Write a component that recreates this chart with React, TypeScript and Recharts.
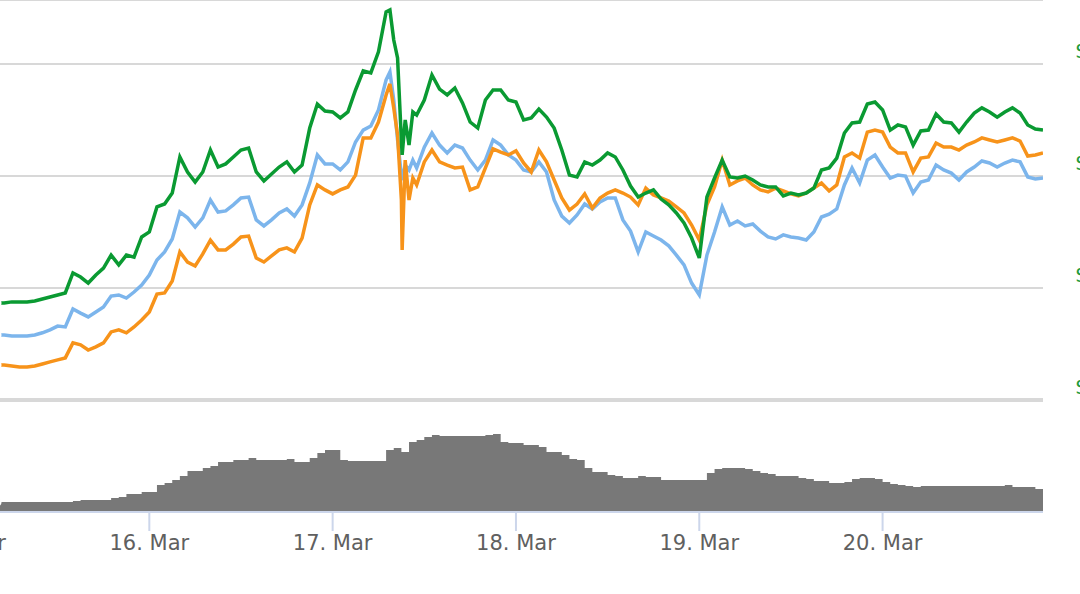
import { ComposedChart, Line, Area, XAxis, YAxis, CartesianGrid, ReferenceLine } from 'recharts';

// hourly samples from 15 Mar 00:00
const dayTicks = [0, 24, 48, 72, 96, 120];
const dayLabels = ['15. Mar', '16. Mar', '17. Mar', '18. Mar', '19. Mar', '20. Mar'];
const priceTicks = [30, 35, 40, 45];

const greenPrice = [
  34.29, 34.29, 34.33, 34.33, 34.33, 34.33, 34.38, 34.38, 34.38, 34.42, 34.51, 34.6,
  34.69, 34.78, 35.67, 35.49, 35.22, 35.58, 35.89, 36.47, 36.03, 36.47, 36.38, 37.28,
  37.5, 38.62, 38.75, 39.24, 40.85, 40.18, 39.73, 40.18, 41.16, 40.4, 40.54, 40.85,
  41.16, 41.25, 40.18, 39.78, 40.09, 40.4, 40.63, 40.18, 40.49, 42.14, 43.21, 42.9,
  42.86, 42.59, 42.86, 43.84, 44.69, 44.6, 45.54, 47.32, 46.07, 41.61, 41.38, 42.72,
  43.39, 44.51, 43.88, 43.62, 43.93, 43.26, 42.41, 42.14, 43.39, 43.84, 43.84, 43.39,
  43.3, 42.5, 42.59, 42.99, 42.63, 42.14, 41.16, 40.04, 39.96, 40.63, 40.49, 40.71,
  41.03, 40.85, 40.27, 39.55, 39.06, 39.24, 39.38, 38.97, 38.71, 38.35, 37.9, 37.23,
  36.34, 39.06, 39.91, 40.71, 39.96, 39.91, 40.0, 39.82, 39.6, 39.51, 39.51, 39.11,
  39.24, 39.15, 39.24, 39.46, 40.27, 40.36, 40.8, 41.92, 42.37, 42.41, 43.21, 43.3,
  42.95, 42.05, 42.28, 42.19, 41.38, 42.01, 42.05, 42.77, 42.41, 42.37, 41.96, 42.41,
  42.81, 43.04, 42.86, 42.63, 42.86, 43.04, 42.81, 42.28, 42.1, 42.05,
];

const bluePrice = [
  32.86, 32.86, 32.86, 32.86, 32.9, 32.9, 32.86, 32.86, 32.86, 32.9, 33.0, 33.13,
  33.3, 33.26, 34.06, 33.88, 33.71, 33.93, 34.15, 34.64, 34.69, 34.55, 34.82, 35.13,
  35.58, 36.25, 36.61, 37.19, 38.39, 38.13, 37.72, 38.13, 38.93, 38.39, 38.44, 38.71,
  39.02, 39.06, 38.04, 37.77, 38.04, 38.35, 38.53, 38.21, 38.71, 39.69, 40.94, 40.54,
  40.54, 40.27, 40.63, 41.52, 42.05, 42.23, 42.95, 44.29, 43.39, 40.04, 40.27, 40.36,
  41.29, 41.92, 41.38, 41.03, 41.38, 41.25, 40.71, 40.27, 40.71, 41.61, 41.38, 40.94,
  40.71, 40.27, 40.18, 40.63, 40.18, 38.93, 38.21, 37.9, 38.26, 38.75, 38.53, 38.84,
  39.02, 39.02, 38.04, 37.54, 36.61, 37.5, 37.32, 37.14, 36.88, 36.47, 36.03, 35.22,
  34.69, 36.47, 37.5, 38.62, 37.81, 37.99, 37.77, 37.86, 37.54, 37.28, 37.19, 37.37,
  37.28, 37.23, 37.14, 37.5, 38.17, 38.3, 38.53, 39.6, 40.36, 39.69, 40.71, 40.94,
  40.4, 39.91, 40.04, 40.0, 39.24, 39.73, 39.82, 40.49, 40.27, 40.13, 39.82, 40.18,
  40.4, 40.67, 40.58, 40.4, 40.58, 40.71, 40.63, 39.96, 39.87, 39.91,
];

const orangePrice = [
  31.52, 31.52, 31.52, 31.52, 31.56, 31.56, 31.52, 31.47, 31.47, 31.52, 31.61, 31.7,
  31.79, 31.88, 32.55, 32.46, 32.23, 32.37, 32.55, 33.04, 33.13, 33.0, 33.26, 33.57,
  33.93, 34.73, 34.78, 35.31, 36.61, 36.16, 35.98, 36.52, 37.14, 36.7, 36.7, 36.96,
  37.28, 37.32, 36.34, 36.16, 36.43, 36.7, 36.79, 36.61, 37.23, 38.71, 39.6, 39.38,
  39.2, 39.38, 39.51, 40.04, 41.7, 41.7, 42.41, 43.62, 43.04, 38.93, 38.93, 39.6,
  40.63, 41.16, 40.63, 40.49, 40.36, 40.4, 39.38, 39.51, 40.36, 41.21, 41.07, 40.94,
  41.12, 40.58, 40.18, 41.16, 40.63, 39.82, 39.02, 38.48, 38.75, 39.2, 38.57, 39.02,
  39.24, 39.38, 39.24, 39.06, 38.71, 39.46, 39.15, 39.02, 38.88, 38.62, 38.35, 37.81,
  37.14, 38.71, 39.51, 40.71, 39.6, 39.78, 39.91, 39.6, 39.38, 39.29, 39.46, 39.33,
  39.2, 39.11, 39.24, 39.46, 39.69, 39.33, 39.6, 40.85, 41.03, 40.8, 41.96, 42.05,
  41.96, 41.29, 41.03, 41.03, 40.18, 40.8, 40.85, 41.47, 41.29, 41.29, 41.16, 41.38,
  41.52, 41.7, 41.61, 41.52, 41.61, 41.7, 41.56, 40.89, 40.94, 41.03,
];

// volume, thousands
const volumeK = [
  20, 20, 20, 20, 20, 20, 20, 20, 20, 20, 20, 20,
  20, 20, 22, 24, 24, 24, 24, 28, 30, 36, 36, 40,
  40, 54, 58, 64, 72, 82, 82, 88, 92, 100, 100, 104,
  104, 108, 104, 104, 104, 104, 106, 100, 100, 108, 118, 124,
  124, 104, 102, 102, 102, 102, 102, 124, 128, 120, 140, 144,
  150, 154, 152, 152, 152, 152, 152, 152, 154, 156, 140, 138,
  138, 134, 134, 130, 120, 120, 114, 106, 104, 88, 80, 80,
  74, 72, 68, 68, 72, 70, 70, 64, 64, 64, 64, 64,
  64, 78, 86, 88, 88, 88, 86, 82, 78, 76, 72, 72,
  72, 68, 66, 62, 62, 58, 58, 60, 66, 68, 68, 66,
  60, 56, 54, 52, 50, 52, 52, 52, 52, 52, 52, 52,
  52, 52, 52, 52, 54, 50, 50, 50, 46, 44,
];

// extra ticks around the 17 Mar crash, read at finer spacing
const crashHours = [55.5, 56.5, 57.1, 57.5, 58.5];
const crashGreen = [47.41, 45.27, 40.94, 42.5, 42.86];
const crashBlue = [44.64, 41.61, 39.82, 40.49, 40.71];
const crashOrange = [44.11, 41.83, 36.7, 40.71, 39.91];
const crashVolume = [124, 128, 120, 120, 140];

const rows = [
  ...greenPrice.map((g, i) => ({
    hour: i,
    green: g,
    blue: bluePrice[i],
    orange: orangePrice[i],
    volume: volumeK[i],
  })),
  ...crashHours.map((h, i) => ({
    hour: h,
    green: crashGreen[i],
    blue: crashBlue[i],
    orange: crashOrange[i],
    volume: crashVolume[i],
  })),
].sort((a, b) => a.hour - b.hour);

const FONT = '"DejaVu Sans", sans-serif';
const CHART_W = 1197;
const AXIS_W = 120;
// price labels sit 32px right of the plot edge
const PRICE_LABEL_X = CHART_W - AXIS_W + 32;

function DayTick({ x, y, payload }: any) {
  const label = dayLabels[dayTicks.indexOf(payload.value)];
  return (
    <text x={x} y={y + 17} textAnchor="middle" fill="#606060" fontSize={21} fontFamily={FONT}>
      {label}
    </text>
  );
}

function PriceTick({ y, payload }: any) {
  return (
    <text x={PRICE_LABEL_X} y={y - 6} textAnchor="start" fill="#1f9a3a" fontSize={21} fontFamily={FONT}>
      {`$${payload.value.toFixed(2)}`}
    </text>
  );
}

export default function App() {
  return (
    <div style={{ position: 'absolute', left: 0, top: 0, width: 1080, height: 594, overflow: 'hidden', background: '#fff' }}>
      <ComposedChart
        width={CHART_W}
        height={594}
        data={rows}
        margin={{ top: 0, right: 0, bottom: 0, left: 0 }}
        style={{ position: 'absolute', left: -34, top: 0 }}
      >
        <CartesianGrid vertical={false} yAxisId="price" stroke="#d8d8d8" strokeWidth={2} />
        <XAxis
          dataKey="hour"
          type="number"
          domain={[0, 141]}
          ticks={dayTicks}
          interval={0}
          height={82}
          allowDataOverflow
          axisLine={{ stroke: '#ccd6eb', strokeWidth: 2 }}
          tickLine={{ stroke: '#ccd6eb', strokeWidth: 2 }}
          tickSize={19}
          tickMargin={2}
          tick={<DayTick />}
        />
        <YAxis
          yAxisId="price"
          orientation="right"
          width={AXIS_W}
          domain={[25, 47.857]}
          allowDataOverflow
          ticks={priceTicks}
          axisLine={false}
          tickLine={false}
          tick={<PriceTick />}
        />
        <YAxis yAxisId="vol" hide domain={[0, 1024]} allowDataOverflow />
        <ReferenceLine yAxisId="price" y={30} stroke="#d8d8d8" strokeWidth={4} />
        <Area
          yAxisId="vol"
          type="stepAfter"
          dataKey="volume"
          fill="#787878"
          fillOpacity={1}
          stroke="none"
          isAnimationActive={false}
        />
        <Line yAxisId="price" type="linear" dataKey="blue" stroke="#7cb5ec" strokeWidth={3.5} dot={false} isAnimationActive={false} />
        <Line yAxisId="price" type="linear" dataKey="orange" stroke="#f7931a" strokeWidth={3.5} dot={false} isAnimationActive={false} />
        <Line yAxisId="price" type="linear" dataKey="green" stroke="#0a9a32" strokeWidth={3.5} dot={false} isAnimationActive={false} />
      </ComposedChart>
    </div>
  );
}
